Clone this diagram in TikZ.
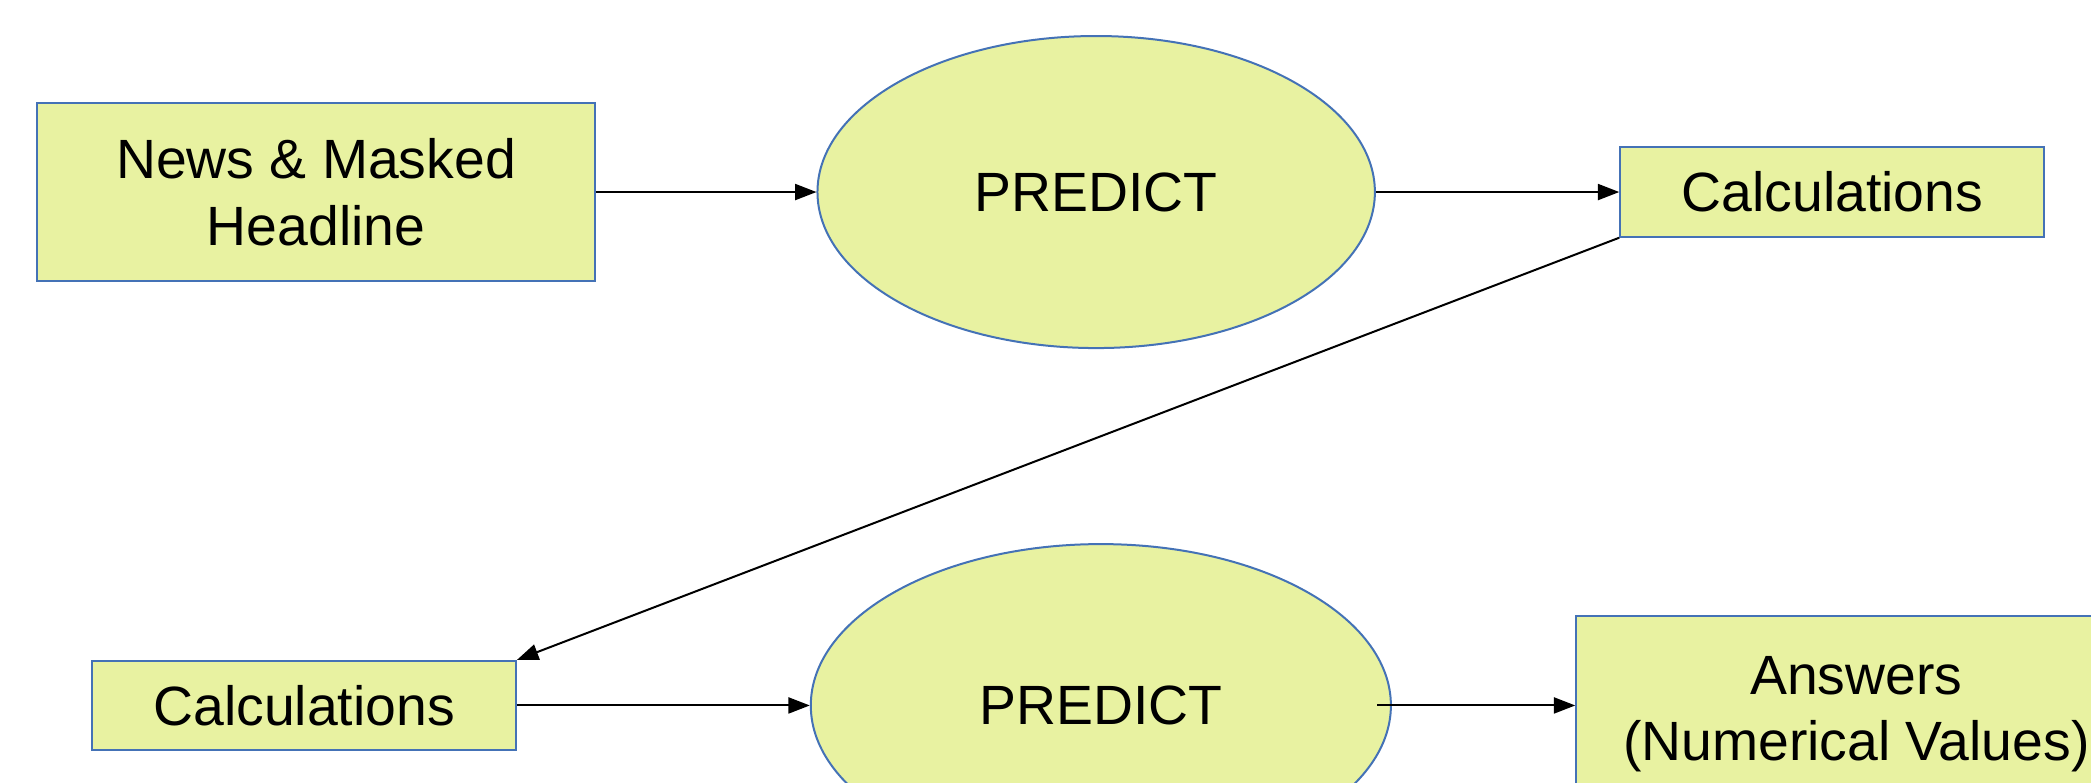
\documentclass[tikz,border=0pt]{standalone}
\usepackage{fontspec}
\setmainfont{Liberation Sans}
\usetikzlibrary{arrows.meta,shapes.geometric}
\definecolor{boxfill}{RGB}{232,242,161}
\definecolor{boxblue}{RGB}{68,114,182}
\begin{document}
\begin{tikzpicture}[x=1pt,y=-1pt,
  lbl/.style={font=\fontsize{41.5}{50}\selectfont, text=black},
  box/.style={lbl, rectangle, draw=boxblue, fill=boxfill, line width=1.5pt, inner sep=0pt, align=center},
  oval/.style={lbl, ellipse, draw=boxblue, fill=boxfill, line width=1.5pt, inner sep=0pt},
  conn/.style={draw=black, line width=1.5pt, -{Triangle[length=16pt,width=12pt]}}]
\useasboundingbox (0,0) rectangle (1568,587.1);
\clip (0,0) rectangle (1568,587.1);
\node[box, minimum width=418pt, minimum height=134pt] (b1) at (237,144) {News \& Masked\\Headline};
\node[oval, minimum width=418pt, minimum height=234pt] (e1) at (822,144) {PREDICT};
\node[box, minimum width=318pt, minimum height=67pt] (b2) at (1374,144) {Calculations};
\node[box, minimum width=318pt, minimum height=67pt] (b3) at (228,529) {Calculations};
\node[oval, minimum width=435pt, minimum height=242pt] (e2) at (825.5,529) {PREDICT};
\node[box, minimum width=420pt, minimum height=147pt] (ans) at (1392,535.5) {Answers\\(Numerical Values)};
\draw[conn] (b1.east) -- (e1.west);
\draw[conn] (e1.east) -- (b2.west);
\draw[conn] (b2.south west) -- (b3.north east);
\draw[conn] (b3.east) -- (e2.west);
\draw[conn] ([xshift=-11pt]e2.east) -- (e2.east -| ans.west);
\end{tikzpicture}
\end{document}
